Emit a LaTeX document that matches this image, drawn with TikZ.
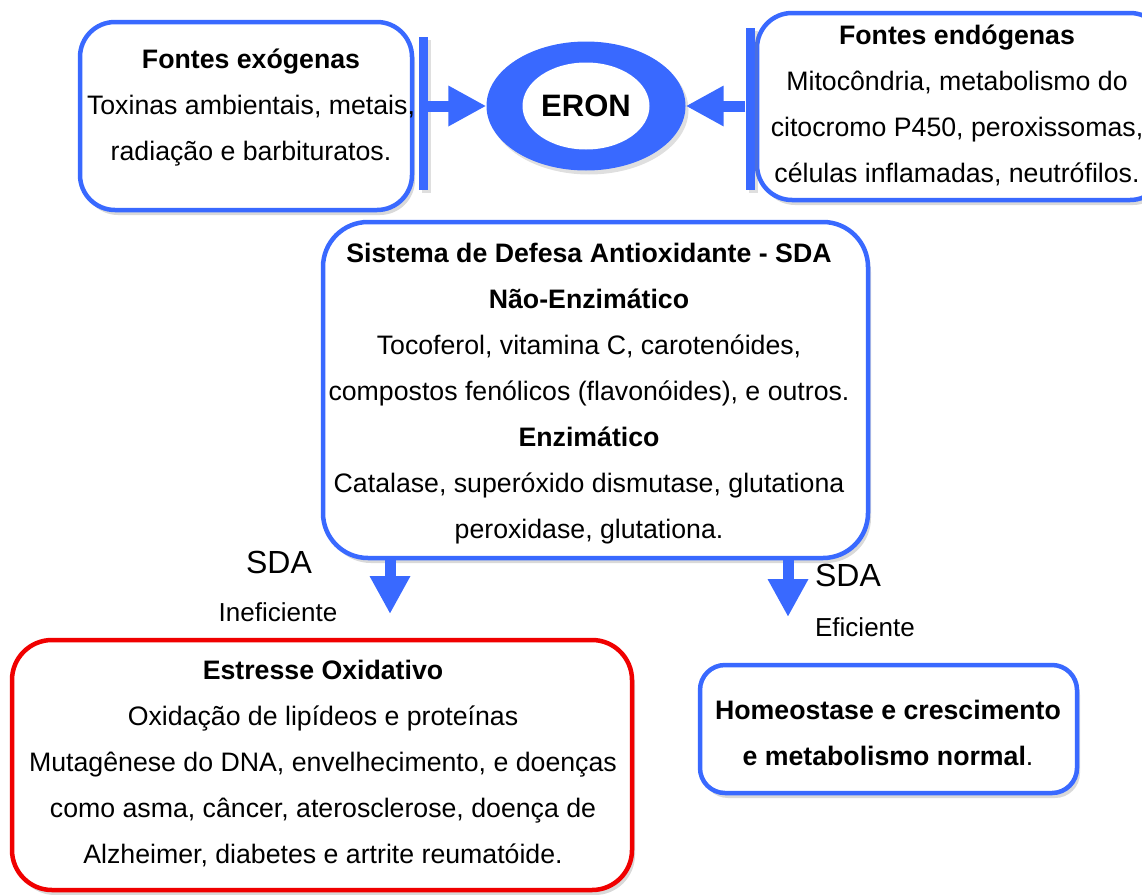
\documentclass[tikz,border=0pt]{standalone}
\usepackage{fontspec}
\setmainfont{Liberation Sans}
\usetikzlibrary{shapes.geometric,arrows.meta,shadows,positioning}
\definecolor{boxblue}{RGB}{57,105,255}
\definecolor{boxred}{RGB}{240,0,0}

\begin{document}
\begin{tikzpicture}[
  x=1pt, y=-1pt,
  box/.style={draw=boxblue, line width=4.5pt, rounded corners=#1, fill=white, inner sep=0pt,
    drop shadow={shadow xshift=3pt, shadow yshift=-5pt, opacity=0.3}},
  box/.default=35pt,
  txt/.style={align=center, inner sep=0pt, anchor=base, font=\fontsize{26.7}{46}\selectfont},
  lbl/.style={inner sep=0pt, font=\fontsize{26}{30}\selectfont},
  bar/.style={fill=boxblue, inner sep=0pt, minimum width=9pt,
    drop shadow={shadow xshift=3pt, shadow yshift=-3pt, opacity=0.25}},
  blockarrow/.style={draw=boxblue, line width=11pt, -{Triangle[length=38pt,width=38pt]}}
]
\useasboundingbox (0,0) rectangle (1142,894);

% sources
\node[box, minimum width=332pt, minimum height=188pt] (exo) at (246,116) {};
\node[txt] (exoTxt) at (251,160) {\textbf{Fontes exógenas}\\Toxinas ambientais, metais,\\radiação e barbituratos.};
\node[box, minimum width=408pt, minimum height=187pt] (endo) at (961,106.5) {};
\node[txt] (endoTxt) at (957,182) {\textbf{Fontes endógenas}\\Mitocôndria, metabolismo do\\citocromo P450, peroxissomas,\\células inflamadas, neutrófilos.};

\node[bar, minimum height=153pt] (barL) at (423,113.5) {};
\node[bar, minimum height=162pt] (barR) at (750,109) {};

% ERON
\node[ellipse, fill=boxblue, inner sep=0pt, minimum width=199pt, minimum height=129pt,
  drop shadow={shadow xshift=3pt, shadow yshift=-4pt, opacity=0.25}] (eron) at (586,106) {};
\node[ellipse, fill=white, inner sep=0pt, minimum width=127pt, minimum height=87pt,
  font=\fontsize{31}{36}\selectfont\bfseries] (eronIn) at (eron) {ERON};

\draw[blockarrow] (barL.east |- eron.west) -- (eron.west);
\draw[blockarrow] (barR.west |- eron.east) -- (eron.east);

% defesa antioxidante
\node[box=45pt, minimum width=545pt, minimum height=336pt] (sda) at (595.5,390) {};
\node[txt] (sdaTxt) at (589,538) {\textbf{Sistema de Defesa Antioxidante - SDA}\\\textbf{Não-Enzimático}\\Tocoferol, vitamina C, carotenóides,\\compostos fenólicos (flavonóides), e outros.\\\textbf{Enzimático}\\Catalase, superóxido dismutase, glutationa\\peroxidase, glutationa.};

\coordinate (tipL) at (390,614);
\coordinate (tipR) at (788,617);
\draw[blockarrow] (sda.south -| tipL) -- (tipL);
\draw[blockarrow] (sda.south -| tipR) -- (tipR);

\node[lbl, font=\fontsize{32}{36}\selectfont] (sdaL) at (279,562) {SDA};
\node[lbl] (inef) at (278,612) {Ineficiente};
\node[lbl, font=\fontsize{32}{36}\selectfont] (sdaR) at (848,575) {SDA};
\node[lbl] (efic) at (865,627) {Eficiente};

% resultados
\node[box=40pt, draw=boxred, minimum width=620pt, minimum height=250pt] (stress) at (322,765) {};
\node[txt] (stressTxt) at (323,863) {\textbf{Estresse Oxidativo}\\Oxidação de lipídeos e proteínas\\Mutagênese do DNA, envelhecimento, e doenças\\como asma, câncer, aterosclerose, doença de\\Alzheimer, diabetes e artrite reumatóide.};
\node[box=25pt, minimum width=377pt, minimum height=128pt] (homeo) at (888.5,729) {};
\node[txt] (homeoTxt) at (888,765) {\textbf{Homeostase e crescimento}\\\textbf{e metabolismo normal}.};
\end{tikzpicture}
\end{document}
